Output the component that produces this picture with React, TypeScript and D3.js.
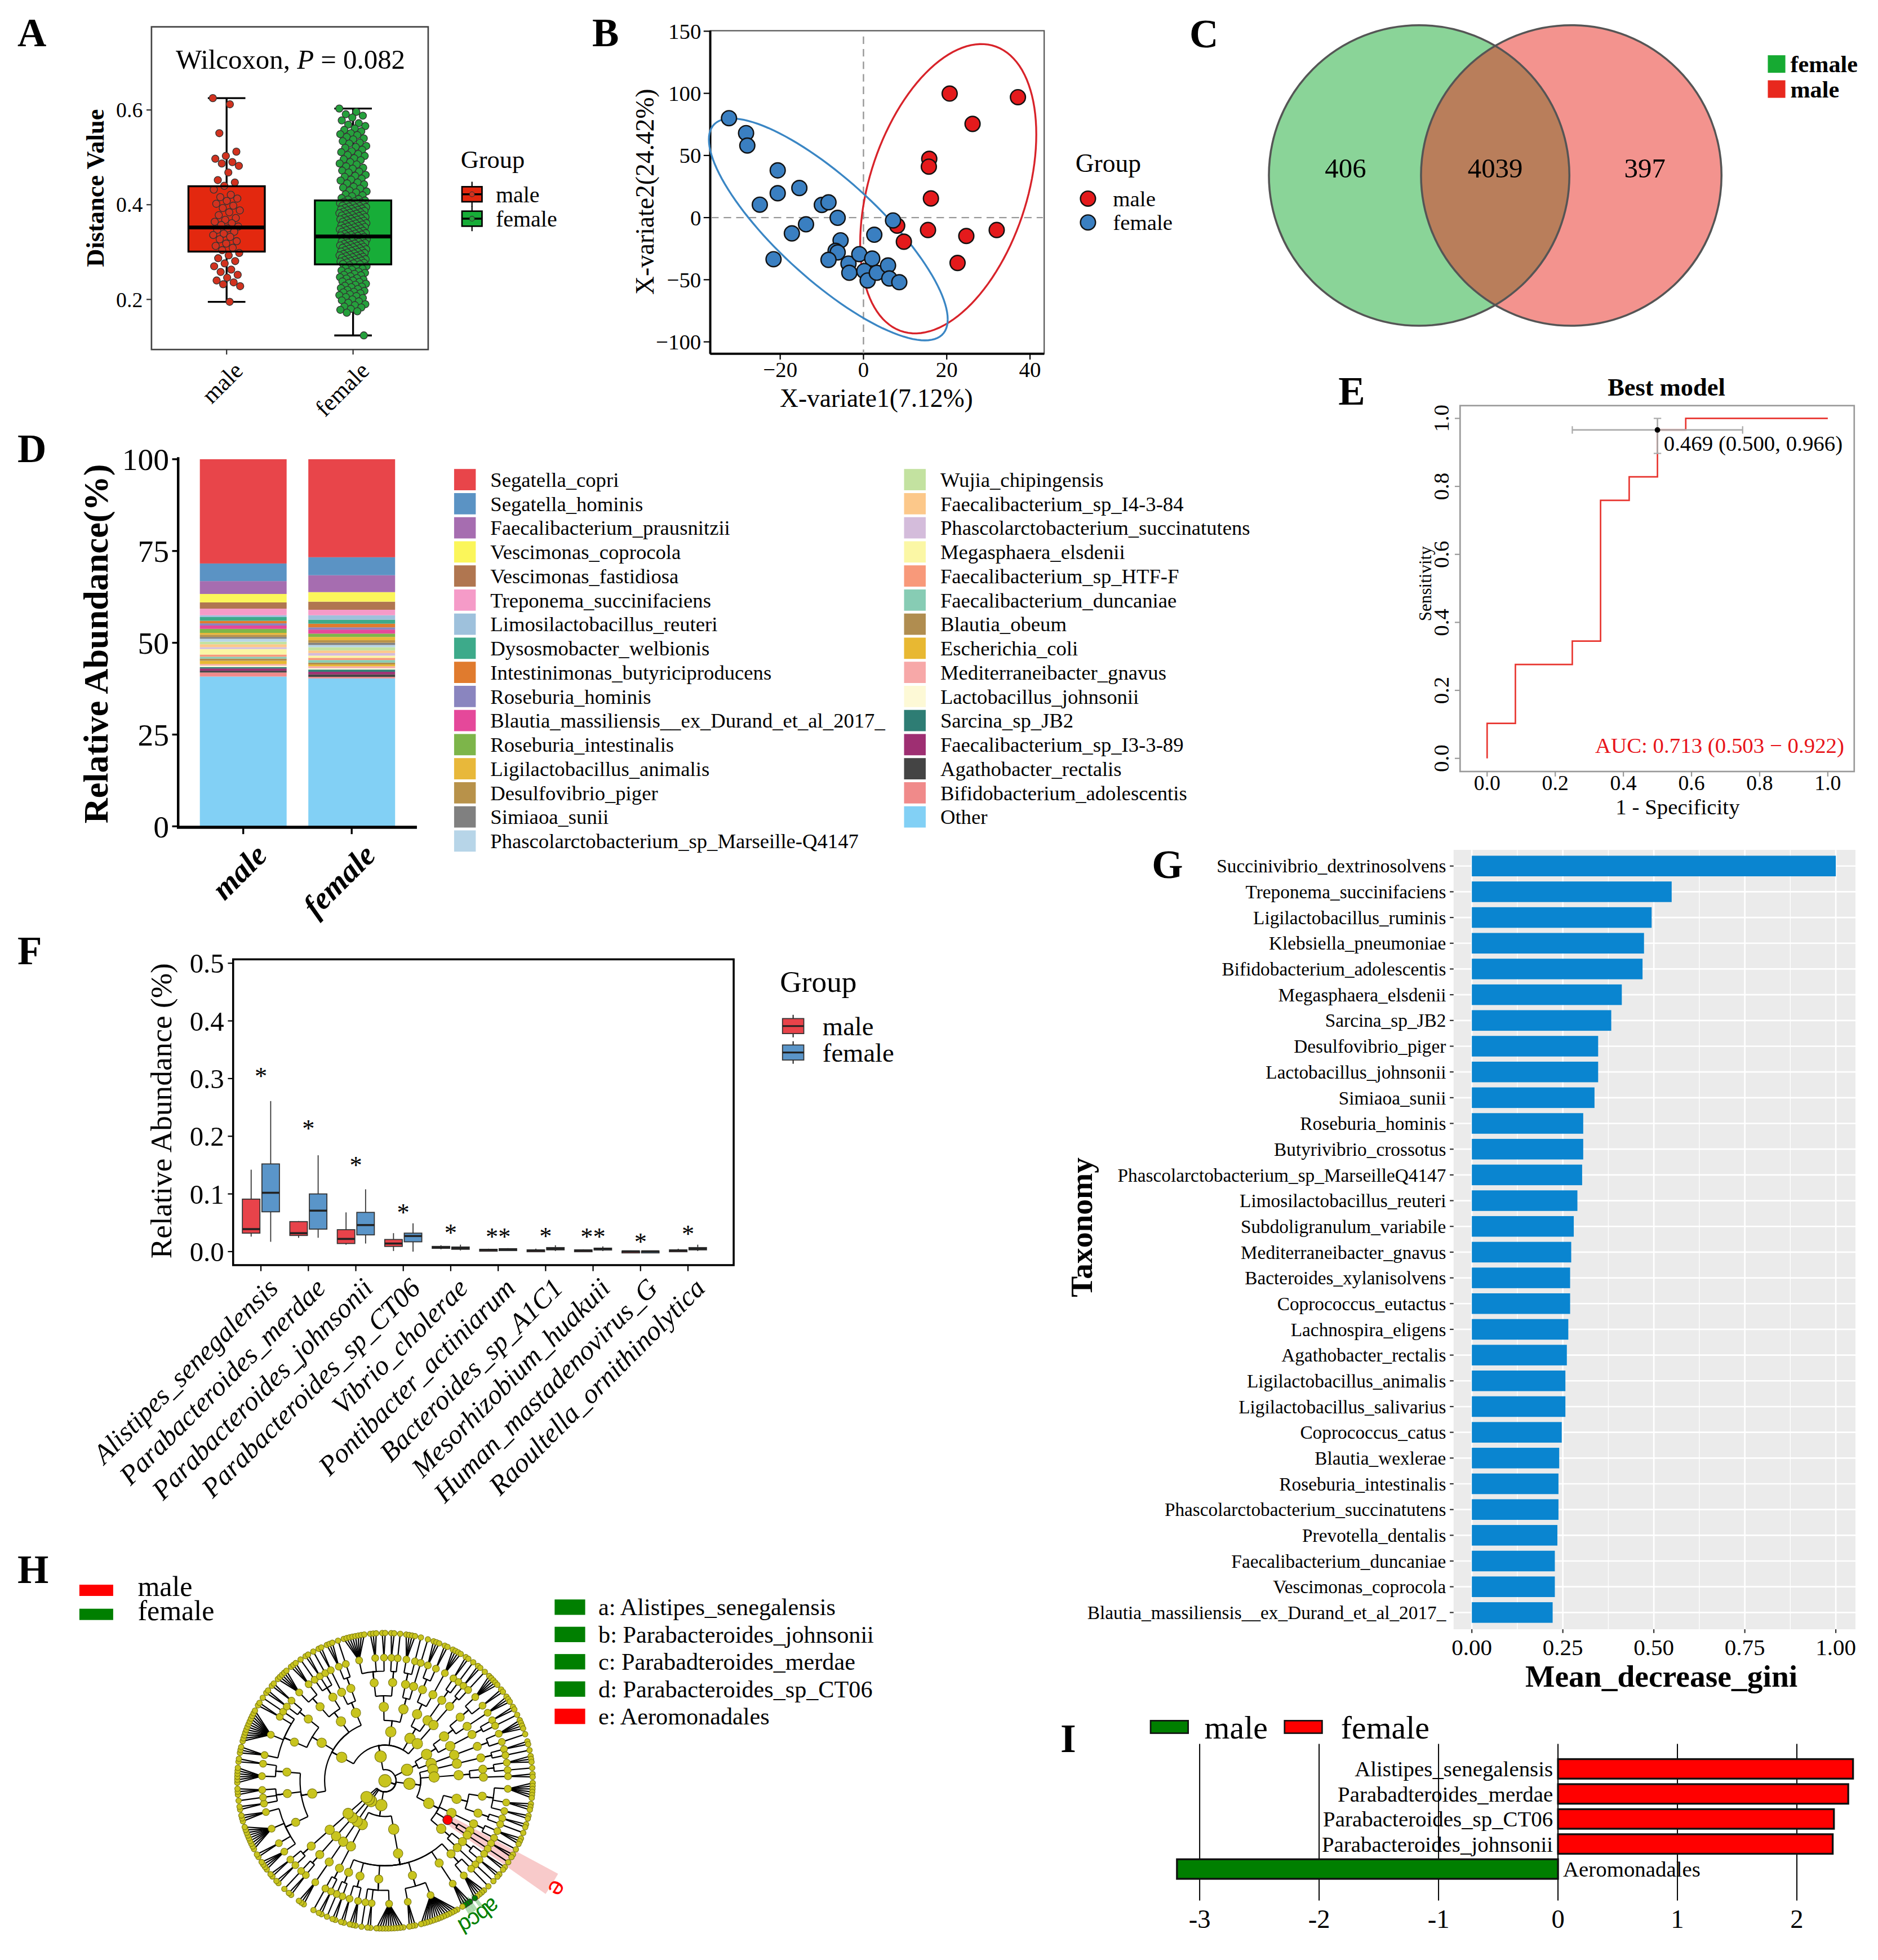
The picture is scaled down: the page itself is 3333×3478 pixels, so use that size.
import * as d3 from 'd3';

const FONT = '"Liberation Serif", "Times New Roman", Times, serif';
const jitter = (i: number) => ((i * 0.6180339887) % 1) - 0.5;

// ---------- A: distance boxplot ----------
const groupsA = ['male', 'female'];
const lowA = [0.195, 0.124];
const q1A = [0.301, 0.274];
const medA = [0.352, 0.333];
const q3A = [0.439, 0.409];
const highA = [0.625, 0.603];
const ticksA = [0.2, 0.4, 0.6];
const boxColorsA = ['#e3280f', '#17ad38'];
const pointColorsA = ['#d2321f', '#25a03c'];
const maleDistance = [0.625, 0.612, 0.551, 0.512, 0.503, 0.497, 0.49, 0.487, 0.482, 0.468, 0.452, 0.447, 0.44, 0.432, 0.421,
  0.416, 0.413, 0.408, 0.402, 0.398, 0.393, 0.388, 0.384, 0.378, 0.372, 0.368, 0.364, 0.361, 0.357, 0.354, 0.35, 0.347,
  0.343, 0.339, 0.336, 0.332, 0.327, 0.323, 0.318, 0.313, 0.309, 0.304, 0.298, 0.293, 0.287, 0.281, 0.276, 0.27, 0.263,
  0.258, 0.252, 0.246, 0.24, 0.236, 0.232, 0.228, 0.195];
const femaleDistance = [0.603, 0.596, 0.591, 0.588, 0.584, 0.578, 0.572, 0.569, 0.566, 0.561, 0.558, 0.555, 0.551, 0.549,
  0.547, 0.543, 0.54, 0.538, 0.534, 0.531, 0.529, 0.524, 0.522, 0.52, 0.516, 0.513, 0.511, 0.507, 0.505, 0.503, 0.498,
  0.496, 0.494, 0.49, 0.487, 0.485, 0.481, 0.478, 0.476, 0.472, 0.47, 0.468, 0.463, 0.461, 0.459, 0.455, 0.453, 0.451,
  0.447, 0.445, 0.443, 0.438, 0.436, 0.434, 0.43, 0.428, 0.426, 0.422, 0.42, 0.418, 0.414, 0.412, 0.411, 0.409, 0.407,
  0.406, 0.405, 0.404, 0.403, 0.402, 0.401, 0.4, 0.399, 0.398, 0.397, 0.396, 0.395, 0.394, 0.393, 0.392, 0.391, 0.39,
  0.389, 0.388, 0.387, 0.386, 0.385, 0.384, 0.383, 0.382, 0.381, 0.38, 0.379, 0.378, 0.377, 0.376, 0.375, 0.374, 0.373,
  0.372, 0.371, 0.37, 0.369, 0.368, 0.367, 0.366, 0.365, 0.364, 0.363, 0.362, 0.361, 0.36, 0.359, 0.358, 0.357, 0.356,
  0.355, 0.354, 0.353, 0.352, 0.351, 0.35, 0.349, 0.348, 0.347, 0.346, 0.345, 0.344, 0.343, 0.342, 0.341, 0.34, 0.339,
  0.338, 0.337, 0.336, 0.335, 0.334, 0.333, 0.332, 0.331, 0.33, 0.329, 0.328, 0.327, 0.326, 0.325, 0.324, 0.323, 0.322,
  0.321, 0.32, 0.319, 0.318, 0.317, 0.316, 0.315, 0.314, 0.313, 0.312, 0.311, 0.31, 0.309, 0.308, 0.307, 0.306, 0.305,
  0.304, 0.303, 0.302, 0.301, 0.3, 0.299, 0.298, 0.297, 0.296, 0.295, 0.294, 0.293, 0.292, 0.291, 0.29, 0.289, 0.288,
  0.287, 0.286, 0.285, 0.284, 0.283, 0.282, 0.281, 0.28, 0.279, 0.278, 0.277, 0.276, 0.275, 0.274, 0.272, 0.27, 0.268,
  0.266, 0.265, 0.263, 0.261, 0.259, 0.258, 0.256, 0.254, 0.252, 0.251, 0.249, 0.247, 0.245, 0.244, 0.242, 0.24, 0.238,
  0.237, 0.235, 0.233, 0.231, 0.229, 0.227, 0.226, 0.224, 0.222, 0.22, 0.218, 0.216, 0.215, 0.213, 0.211, 0.209, 0.207,
  0.205, 0.203, 0.2, 0.198, 0.196, 0.193, 0.19, 0.188, 0.185, 0.183, 0.18, 0.178, 0.175, 0.172, 0.124];

// ---------- B: PLS-DA scores ----------
const maleX = [20.7, 37.1, 26.2, 15.8, 15.7, 16.2, 8.1, 9.7, 15.5, 24.7, 32.0, 22.6];
const maleY = [99.8, 96.9, 75.4, 47.3, 41.0, 15.4, -6.5, -19.4, -10.0, -14.8, -10.0, -36.5];
const femaleX = [-32.3, -28.2, -27.9, -20.6, -20.6, -15.4, -24.9, -10.0, -8.4, -6.2, -13.8, -17.2, -21.6, -5.5, -6.7,
  -6.2, -8.4, -3.6, -3.4, -1.0, 2.1, 0.2, 1.0, 3.2, 2.6, 5.9, 6.2, 8.6, 7.1];
const femaleY = [80, 68, 58, 38, 19.6, 23.8, 10.4, 10.2, 12.3, -0.2, -5.4, -12.7, -33.5, -18.3, -26.7, -28, -34, -37,
  -44.4, -29.4, -33, -43, -50.6, -44.4, -13.8, -38.5, -49, -52, -2.3];
const ticksBx = [-20, 0, 20, 40];
const ticksBy = [-100, -50, 0, 50, 100, 150];

// ---------- C: Venn ----------
const vennSets = ['female', 'male'];
const vennCounts = [406, 4039, 397];
const vennColors = ['#16aa32', '#e8281e'];

// ---------- D: stacked composition ----------
const speciesD = ['Segatella_copri', 'Segatella_hominis', 'Faecalibacterium_prausnitzii', 'Vescimonas_coprocola',
  'Vescimonas_fastidiosa', 'Treponema_succinifaciens', 'Limosilactobacillus_reuteri', 'Dysosmobacter_welbionis',
  'Intestinimonas_butyriciproducens', 'Roseburia_hominis', 'Blautia_massiliensis__ex_Durand_et_al_2017_',
  'Roseburia_intestinalis', 'Ligilactobacillus_animalis', 'Desulfovibrio_piger', 'Simiaoa_sunii',
  'Phascolarctobacterium_sp_Marseille-Q4147', 'Wujia_chipingensis', 'Faecalibacterium_sp_I4-3-84',
  'Phascolarctobacterium_succinatutens', 'Megasphaera_elsdenii', 'Faecalibacterium_sp_HTF-F',
  'Faecalibacterium_duncaniae', 'Blautia_obeum', 'Escherichia_coli', 'Mediterraneibacter_gnavus',
  'Lactobacillus_johnsonii', 'Sarcina_sp_JB2', 'Faecalibacterium_sp_I3-3-89', 'Agathobacter_rectalis',
  'Bifidobacterium_adolescentis', 'Other'];
const colorsD = ['#e8454a', '#5b93c4', '#a66db0', '#fbf65a', '#b07650', '#f59bc8', '#9ec1dc', '#3daa8a', '#e07b2e',
  '#8a85bf', '#e5489a', '#7db54a', '#e8b83a', '#b8924a', '#808080', '#b7d5e8', '#c3e2a0', '#fcc88a', '#d4bcdb',
  '#fbf7a5', '#f8997a', '#87ccb4', '#b08d50', '#e8b832', '#f7a8a8', '#fdf9d6', '#2e7d74', '#9e2f72', '#444444',
  '#f08a8a', '#82d0f5'];
const maleAbundance = [28.4, 4.8, 3.5, 2.3, 1.7, 1.8, 0.5, 1.0, 0.7, 0.6, 0.9, 1.1, 0.5, 0.6, 0.5, 0.8, 0.7, 0.8, 0.5,
  1.5, 0.6, 0.5, 0.6, 0.9, 0.4, 0.4, 0.4, 0.6, 0.5, 1.1, 40.8];
const femaleAbundance = [26.7, 4.9, 4.6, 2.6, 2.2, 1.5, 1.2, 1.1, 1.0, 0.6, 1.1, 0.9, 0.9, 0.7, 0.6, 0.6, 0.9, 0.7, 0.7,
  0.6, 0.6, 0.7, 0.5, 0.5, 0.5, 0.4, 0.6, 0.7, 0.7, 0.4, 40.3];
const ticksD = [0, 25, 50, 75, 100];

// ---------- E: ROC ----------
const rocFpr = [0, 0, 0.083, 0.25, 0.333, 0.417, 0.5, 0.583, 1];
const rocTpr = [0, 0.103, 0.276, 0.345, 0.759, 0.828, 0.966, 1, 1];
const bestPoint = [0.5, 0.966];
const bestFprCI = [0.25, 0.75];
const bestTprCI = [0.897, 1.0];
const ticksE = [0, 0.2, 0.4, 0.6, 0.8, 1.0];

// ---------- F: differential species boxplots ----------
const taxaF = ['Alistipes_senegalensis', 'Parabacteroides_merdae', 'Parabacteroides_johnsonii',
  'Parabacteroides_sp_CT06', 'Vibrio_cholerae', 'Pontibacter_actiniarum', 'Bacteroides_sp_A1C1',
  'Mesorhizobium_huakuii', 'Human_mastadenovirus_G', 'Raoultella_ornithinolytica'];
// [low whisker, Q1, median, Q3, high whisker]
const maleBoxF = [[0.026, 0.032, 0.039, 0.091, 0.142], [0.024, 0.028, 0.032, 0.052, 0.053],
  [0.012, 0.014, 0.022, 0.038, 0.068], [0.001, 0.009, 0.014, 0.021, 0.032], [0.004, 0.006, 0.007, 0.009, 0.011],
  [0.002, 0.003, 0.003, 0.004, 0.005], [0.0, 0.001, 0.002, 0.003, 0.005], [0.001, 0.002, 0.002, 0.003, 0.004],
  [0.0, 0.0, 0.0005, 0.001, 0.002], [0.0, 0.001, 0.002, 0.003, 0.005]];
const femaleBoxF = [[0.017, 0.069, 0.102, 0.152, 0.261], [0.024, 0.039, 0.071, 0.1, 0.167],
  [0.014, 0.029, 0.046, 0.068, 0.108], [0.0, 0.017, 0.027, 0.032, 0.049], [0.002, 0.004, 0.006, 0.008, 0.012],
  [0.002, 0.003, 0.004, 0.005, 0.006], [0.001, 0.003, 0.005, 0.007, 0.011], [0.001, 0.003, 0.005, 0.006, 0.009],
  [0.0, 0.0, 0.0005, 0.001, 0.002], [0.001, 0.003, 0.005, 0.007, 0.012]];
const sigF = ['*', '*', '*', '*', '*', '**', '*', '**', '*', '*'];
const sigYF = [0.31, 0.219, 0.155, 0.073, 0.038, 0.031, 0.032, 0.031, 0.022, 0.036];
const ticksF = [0, 0.1, 0.2, 0.3, 0.4, 0.5];
const colorsF = ['#e8434a', '#5a95c9'];

// ---------- G: random forest importance ----------
const taxaG = ['Succinivibrio_dextrinosolvens', 'Treponema_succinifaciens', 'Ligilactobacillus_ruminis',
  'Klebsiella_pneumoniae', 'Bifidobacterium_adolescentis', 'Megasphaera_elsdenii', 'Sarcina_sp_JB2',
  'Desulfovibrio_piger', 'Lactobacillus_johnsonii', 'Simiaoa_sunii', 'Roseburia_hominis', 'Butyrivibrio_crossotus',
  'Phascolarctobacterium_sp_MarseilleQ4147', 'Limosilactobacillus_reuteri', 'Subdoligranulum_variabile',
  'Mediterraneibacter_gnavus', 'Bacteroides_xylanisolvens', 'Coprococcus_eutactus', 'Lachnospira_eligens',
  'Agathobacter_rectalis', 'Ligilactobacillus_animalis', 'Ligilactobacillus_salivarius', 'Coprococcus_catus',
  'Blautia_wexlerae', 'Roseburia_intestinalis', 'Phascolarctobacterium_succinatutens', 'Prevotella_dentalis',
  'Faecalibacterium_duncaniae', 'Vescimonas_coprocola', 'Blautia_massiliensis__ex_Durand_et_al_2017_'];
const giniG = [1.0, 0.549, 0.494, 0.473, 0.469, 0.412, 0.383, 0.347, 0.347, 0.337, 0.306, 0.306, 0.303, 0.29, 0.28,
  0.273, 0.27, 0.27, 0.265, 0.261, 0.257, 0.257, 0.247, 0.24, 0.238, 0.238, 0.235, 0.228, 0.228, 0.222];
const ticksG = [0, 0.25, 0.5, 0.75, 1.0];

// ---------- H: LEfSe cladogram ----------
// phylum > class > order > family > [species count per genus]
const cladeTree = [
  [
    [[[4, 2, 9, 3], [2, 1, 3], [6, 2]], [[3, 12, 2, 1], [2, 2]], [[5, 3], [1, 2, 1]], [[2], [3, 1]]],
    [[[8, 3, 2], [2, 1]], [[4, 1], [1]]],
    [[[3, 2], [4]], [[2, 1]]],
    [[[2, 1]]],
  ],
  [
    [[[5, 2], [3]], [[2, 1]]],
    [[[4, 1]]],
  ],
  [
    [[[2, 1]]],
    [[[3, 1], [2]]],
    [[[6, 3, 2], [2, 1]], [[3, 1]], [[2], [1]], [[2, 2], [1]]],
  ],
  [
    [[[1, 5], [4], [14, 3], [10, 2, 1], [3, 2], [2, 1]]],
    [[[2, 1]]],
  ],
  [[[[3]]]],
  [[[[2, 1]]]],
  [[[[2, 2]]]],
];
const cladeMarkers = [
  { key: 'a', name: 'Alistipes_senegalensis', group: 'female', path: [3, 0, 0, 0, 1, 4] },
  { key: 'b', name: 'Parabacteroides_johnsonii', group: 'female', path: [3, 0, 0, 1, 0, 0] },
  { key: 'c', name: 'Parabadteroides_merdae', group: 'female', path: [3, 0, 0, 1, 0, 1] },
  { key: 'd', name: 'Parabacteroides_sp_CT06', group: 'female', path: [3, 0, 0, 1, 0, 2] },
  { key: 'e', name: 'Aeromonadales', group: 'male', path: [2, 2, 2] },
];
const groupColorsH: Record<string, string> = { male: '#ff0000', female: '#007f00' };

// ---------- I: LDA scores ----------
const taxaI = ['Alistipes_senegalensis', 'Parabadteroides_merdae', 'Parabacteroides_sp_CT06',
  'Parabacteroides_johnsonii', 'Aeromonadales'];
const ldaI = [2.47, 2.43, 2.31, 2.3, -3.19];
const ticksI = [-3, -2, -1, 0, 1, 2];

function Letter({ x, y, t }: { x: number; y: number; t: string }) {
  return <text x={x} y={y} fontSize={32} fontWeight="bold">{t}</text>;
}

function BoxKey({ x, y, fill }: { x: number; y: number; fill: string }) {
  return (
    <g>
      <line x1={x + 8} x2={x + 8} y1={y - 10} y2={y + 10} stroke="#000" strokeWidth={1} />
      <rect x={x} y={y - 6} width={16} height={12} fill={fill} stroke="#000" strokeWidth={1.2} />
      <line x1={x} x2={x + 16} y1={y} y2={y} stroke="#000" strokeWidth={1.6} />
    </g>
  );
}

function PanelA() {
  const x = d3.scalePoint<string>().domain(groupsA).range([181, 282]);
  const y = d3.scaleLinear().domain([0.2, 0.6]).range([239, 87.7]);
  const dists = [maleDistance, femaleDistance];
  const boxW = 61, capW = 30;
  return (
    <g>
      <Letter x={14} y={37} t="A" />
      <rect x={121} y={21.3} width={221} height={257.7} fill="none" stroke="#444" strokeWidth={1.2} />
      <text x={232} y={55} fontSize={22} textAnchor="middle">
        Wilcoxon, <tspan fontStyle="italic">P</tspan> = 0.082
      </text>
      {ticksA.map((t) => (
        <g key={t}>
          <line x1={117} x2={121} y1={y(t)} y2={y(t)} stroke="#333" />
          <text x={114} y={y(t)} dy="0.35em" fontSize={17} textAnchor="end">{t.toFixed(1)}</text>
        </g>
      ))}
      <text transform="translate(83,150) rotate(-90)" fontSize={20} fontWeight="bold" textAnchor="middle">Distance Value</text>
      {groupsA.map((g, i) => {
        const cx = x(g)!;
        return (
          <g key={g}>
            <line x1={cx} x2={cx} y1={y(highA[i])} y2={y(lowA[i])} stroke="#000" strokeWidth={1.5} />
            <line x1={cx - capW / 2} x2={cx + capW / 2} y1={y(highA[i])} y2={y(highA[i])} stroke="#000" strokeWidth={1.5} />
            <line x1={cx - capW / 2} x2={cx + capW / 2} y1={y(lowA[i])} y2={y(lowA[i])} stroke="#000" strokeWidth={1.5} />
            <rect x={cx - boxW / 2} y={y(q3A[i])} width={boxW} height={y(q1A[i]) - y(q3A[i])} fill={boxColorsA[i]} />
            {dists[i].map((v, j) => (
              <circle key={j} cx={cx + jitter(j) * 22} cy={y(v)} r={2.9} fill={pointColorsA[i]} stroke="#333" strokeWidth={0.6} />
            ))}
            <rect x={cx - boxW / 2} y={y(q3A[i])} width={boxW} height={y(q1A[i]) - y(q3A[i])} fill="none" stroke="#000" strokeWidth={1.5} />
            <line x1={cx - boxW / 2} x2={cx + boxW / 2} y1={y(medA[i])} y2={y(medA[i])} stroke="#000" strokeWidth={3} />
            <line x1={cx} x2={cx} y1={279} y2={283} stroke="#333" />
            <text transform={`translate(${cx + 6},${289}) rotate(-45)`} fontSize={19} textAnchor="end" dy="0.6em">{g}</text>
          </g>
        );
      })}
      <text x={368} y={134} fontSize={20}>Group</text>
      {groupsA.map((g, i) => (
        <g key={g}>
          <BoxKey x={369} y={155 + i * 19.5} fill={boxColorsA[i]} />
          <circle cx={377} cy={155 + i * 19.5} r={2} fill={pointColorsA[i]} stroke="#333" strokeWidth={0.5} />
          <text x={396} y={155 + i * 19.5} dy="0.35em" fontSize={18}>{g}</text>
        </g>
      ))}
    </g>
  );
}

function ellipsePath(xs: number[], ys: number[], sx: any, sy: any, k = 2.4477) {
  const mx = d3.mean(xs)!, my = d3.mean(ys)!;
  const n = xs.length;
  let sxx = 0, syy = 0, sxy = 0;
  xs.forEach((v, i) => {
    sxx += (v - mx) ** 2;
    syy += (ys[i] - my) ** 2;
    sxy += (v - mx) * (ys[i] - my);
  });
  sxx /= n - 1; syy /= n - 1; sxy /= n - 1;
  const l11 = Math.sqrt(sxx), l21 = sxy / l11, l22 = Math.sqrt(syy - l21 * l21);
  const pts = d3.range(0, 121).map((i) => {
    const t = (i / 120) * 2 * Math.PI;
    return [sx(mx + k * l11 * Math.cos(t)), sy(my + k * (l21 * Math.cos(t) + l22 * Math.sin(t)))] as [number, number];
  });
  return d3.line()(pts)!;
}

function PanelB() {
  const x = d3.scaleLinear().domain([-36.8, 43.4]).range([567.3, 834]);
  const y = d3.scaleLinear().domain([-109.6, 150.4]).range([282.4, 24.4]);
  const fmt = d3.format('d');
  const red = '#e41a1c', blue = '#3a7fc1';
  return (
    <g>
      <Letter x={473} y={37} t="B" />
      <rect x={567.3} y={24.4} width={266.7} height={258} fill="none" stroke="#555" strokeWidth={1} />
      <line x1={567.3} x2={567.3} y1={24.4} y2={282.4} stroke="#000" strokeWidth={1.8} />
      <line x1={567.3} x2={834} y1={282.4} y2={282.4} stroke="#000" strokeWidth={1.8} />
      <line x1={x(0)} x2={x(0)} y1={29} y2={282} stroke="#999" strokeDasharray="6,4" strokeWidth={1.1} />
      <line x1={568} x2={833} y1={y(0)} y2={y(0)} stroke="#999" strokeDasharray="6,4" strokeWidth={1.1} />
      {ticksBy.map((t) => (
        <g key={t}>
          <line x1={562} x2={567.3} y1={y(t)} y2={y(t)} stroke="#000" />
          <text x={560} y={y(t)} dy="0.35em" fontSize={17.5} textAnchor="end">{fmt(t)}</text>
        </g>
      ))}
      {ticksBx.map((t) => (
        <g key={t}>
          <line x1={x(t)} x2={x(t)} y1={282.4} y2={287} stroke="#000" />
          <text x={x(t)} y={295} dy="0.35em" fontSize={17.5} textAnchor="middle">{fmt(t)}</text>
        </g>
      ))}
      <text x={700} y={325} fontSize={20.5} textAnchor="middle">X-variate1(7.12%)</text>
      <text transform="translate(522,153) rotate(-90)" fontSize={20.5} textAnchor="middle">X-variate2(24.42%)</text>
      <path d={ellipsePath(maleX, maleY, x, y)} fill="none" stroke="#d8232a" strokeWidth={1.5} />
      <path d={ellipsePath(femaleX, femaleY, x, y)} fill="none" stroke="#3a86c4" strokeWidth={1.5} />
      {maleX.map((v, i) => (
        <circle key={'m' + i} cx={x(v)} cy={y(maleY[i])} r={6} fill={red} stroke="#111" strokeWidth={1.1} />
      ))}
      {femaleX.map((v, i) => (
        <circle key={'f' + i} cx={x(v)} cy={y(femaleY[i])} r={6} fill={blue} stroke="#111" strokeWidth={1.1} />
      ))}
      <text x={859} y={137} fontSize={20.5}>Group</text>
      <circle cx={869} cy={158.5} r={6} fill={red} stroke="#111" strokeWidth={1.1} />
      <text x={889} y={158.5} dy="0.35em" fontSize={17.5}>male</text>
      <circle cx={869} cy={177.5} r={6} fill={blue} stroke="#111" strokeWidth={1.1} />
      <text x={889} y={177.5} dy="0.35em" fontSize={17.5}>female</text>
    </g>
  );
}

function PanelC() {
  const cx = d3.scalePoint<string>().domain(vennSets).range([1133.5, 1255]);
  const r = 120, cy = 140;
  const xf = cx('female')!, xm = cx('male')!;
  const labelX = [xf - r * 0.49, (xf + xm) / 2, xm + r * 0.49];
  return (
    <g>
      <Letter x={950} y={37.5} t="C" />
      {vennSets.map((s, i) => (
        <circle key={s} cx={cx(s)} cy={cy} r={r} fill={vennColors[i]} fillOpacity={0.5} />
      ))}
      {vennSets.map((s) => (
        <circle key={s} cx={cx(s)} cy={cy} r={r} fill="none" stroke="#555" strokeWidth={1.6} />
      ))}
      {vennCounts.map((c, i) => (
        <text key={i} x={labelX[i]} y={cy - 6} dy="0.35em" fontSize={22} textAnchor="middle">{c}</text>
      ))}
      {vennSets.map((s, i) => (
        <g key={s}>
          <rect x={1412} y={44 + i * 20} width={14} height={14} fill={vennColors[i]} />
          <text x={1430} y={51 + i * 20} dy="0.35em" fontSize={19} fontWeight="bold">{s}</text>
        </g>
      ))}
    </g>
  );
}

function PanelD() {
  const groups = ['male', 'female'];
  const table = groups.map((g, gi) => {
    const row: any = { group: g };
    speciesD.forEach((s, i) => { row[s] = gi === 0 ? maleAbundance[i] : femaleAbundance[i]; });
    return row;
  });
  const keys = speciesD.slice().reverse();
  const series = d3.stack().keys(keys)(table);
  const x = d3.scaleBand().domain(groups).range([142.3, 332.9]).paddingInner(0.2).paddingOuter(0.2);
  const y = d3.scaleLinear().domain([0, 100]).range([659.8, 366.6]);
  const color = d3.scaleOrdinal<string, string>().domain(speciesD).range(colorsD);
  return (
    <g>
      <Letter x={14} y={369} t="D" />
      {series.map((s) => (
        <g key={s.key} fill={color(s.key)}>
          {s.map((d, j) => (
            <rect key={j} x={x(groups[j])} y={y(d[1])} width={x.bandwidth()} height={Math.max(0, y(d[0]) - y(d[1]))} />
          ))}
        </g>
      ))}
      <line x1={142.3} x2={142.3} y1={365} y2={660} stroke="#000" strokeWidth={2} />
      <line x1={141.3} x2={333} y1={660.5} y2={660.5} stroke="#000" strokeWidth={2.5} />
      {ticksD.map((t) => (
        <g key={t}>
          <line x1={137.5} x2={142.3} y1={y(t)} y2={y(t)} stroke="#000" strokeWidth={1.5} />
          <text x={135} y={y(t)} dy="0.35em" fontSize={25} textAnchor="end">{t}</text>
        </g>
      ))}
      {groups.map((g) => (
        <g key={g}>
          <line x1={x(g)! + x.bandwidth() / 2} x2={x(g)! + x.bandwidth() / 2} y1={661} y2={666} stroke="#000" strokeWidth={1.5} />
          <text transform={`translate(${x(g)! + x.bandwidth() / 2 + 8},${672}) rotate(-45)`} fontSize={25}
            fontWeight="bold" fontStyle="italic" textAnchor="end" dy="0.7em">{g}</text>
        </g>
      ))}
      <text transform="translate(86,514) rotate(-90)" fontSize={28} fontWeight="bold" textAnchor="middle">Relative Abundance(%)</text>
      {speciesD.map((s, i) => {
        const col = i < 16 ? 0 : 1;
        const row = i < 16 ? i : i - 16;
        const sx = col === 0 ? 362.7 : 722.1;
        const cy = 382.9 + row * 19.24;
        return (
          <g key={s}>
            <rect x={sx} y={cy - 8.5} width={17.3} height={17} fill={colorsD[i]} />
            <text x={sx + 29} y={cy} dy="0.35em" fontSize={16.5}>{s}</text>
          </g>
        );
      })}
    </g>
  );
}

function PanelE() {
  const x = d3.scaleLinear().domain([0, 1]).range([1187.8, 1459.9]);
  const y = d3.scaleLinear().domain([0, 1]).range([605.5, 334]);
  const pts = rocFpr.map((f, i) => [x(f), y(rocTpr[i])] as [number, number]);
  const line = d3.line().curve(d3.curveStepAfter)(pts)!;
  const grey = '#999';
  return (
    <g>
      <Letter x={1069} y={323} t="E" />
      <text x={1331} y={316} fontSize={20} fontWeight="bold" textAnchor="middle">Best model</text>
      <rect x={1166.2} y={323.8} width={314.8} height={292.2} fill="none" stroke={grey} strokeWidth={1.2} />
      {ticksE.map((t) => (
        <g key={t}>
          <line x1={1162} x2={1166.2} y1={y(t)} y2={y(t)} stroke={grey} />
          <text transform={`translate(1157,${y(t)}) rotate(-90)`} fontSize={17.5} textAnchor="middle">{t.toFixed(1)}</text>
          <line x1={x(t)} x2={x(t)} y1={616} y2={620} stroke={grey} />
          <text x={x(t)} y={625} dy="0.35em" fontSize={17} textAnchor="middle">{t.toFixed(1)}</text>
        </g>
      ))}
      <text transform="translate(1143,466) rotate(-90)" fontSize={14} textAnchor="middle">Sensitivity</text>
      <text x={1340} y={650} fontSize={17.5} textAnchor="middle">1 - Specificity</text>
      <path d={line} fill="none" stroke="#e8352f" strokeWidth={1.2} />
      <line x1={x(bestFprCI[0])} x2={x(bestFprCI[1])} y1={y(bestPoint[1])} y2={y(bestPoint[1])} stroke="#aaa" strokeWidth={1.2} />
      <line x1={x(bestFprCI[0])} x2={x(bestFprCI[0])} y1={y(bestPoint[1]) - 3} y2={y(bestPoint[1]) + 3} stroke="#aaa" />
      <line x1={x(bestFprCI[1])} x2={x(bestFprCI[1])} y1={y(bestPoint[1]) - 3} y2={y(bestPoint[1]) + 3} stroke="#aaa" />
      <line x1={x(bestPoint[0])} x2={x(bestPoint[0])} y1={y(bestTprCI[0])} y2={y(bestTprCI[1])} stroke="#aaa" strokeWidth={1.2} />
      <line x1={x(bestPoint[0]) - 3} x2={x(bestPoint[0]) + 3} y1={y(bestTprCI[0])} y2={y(bestTprCI[0])} stroke="#aaa" />
      <line x1={x(bestPoint[0]) - 3} x2={x(bestPoint[0]) + 3} y1={y(bestTprCI[1])} y2={y(bestTprCI[1])} stroke="#aaa" />
      <circle cx={x(bestPoint[0])} cy={y(bestPoint[1])} r={2.2} fill="#000" />
      <text x={x(bestPoint[0]) + 5} y={354} dy="0.35em" fontSize={17.5}>
        {`0.469 (${bestPoint[0].toFixed(3)}, ${bestPoint[1].toFixed(3)})`}
      </text>
      <text x={1473} y={595} dy="0.35em" fontSize={17.5} fill="#e8141a" textAnchor="end">AUC: 0.713 (0.503 − 0.922)</text>
    </g>
  );
}

function PanelF() {
  const x = d3.scalePoint<string>().domain(taxaF).range([208.4, 549.5]);
  const y = d3.scaleLinear().domain([0, 0.5]).range([999.4, 769.1]);
  const off = 7.8, bw = 14;
  const boxes = [maleBoxF, femaleBoxF];
  return (
    <g>
      <Letter x={14} y={770} t="F" />
      <rect x={186.2} y={766} width={399.8} height={244.2} fill="none" stroke="#000" strokeWidth={1.6} />
      {ticksF.map((t) => (
        <g key={t}>
          <line x1={182} x2={186.2} y1={y(t)} y2={y(t)} stroke="#000" />
          <text x={179} y={y(t)} dy="0.35em" fontSize={22} textAnchor="end">{t.toFixed(1)}</text>
        </g>
      ))}
      <text transform="translate(137,887) rotate(-90)" fontSize={24} textAnchor="middle">Relative Abundance (%)</text>
      {taxaF.map((t, i) => {
        const cx = x(t)!;
        return (
          <g key={t}>
            {boxes.map((b, gi) => {
              const [lo, q1, md, q3, hi] = b[i];
              const bx = cx + (gi === 0 ? -off : off);
              return (
                <g key={gi}>
                  <line x1={bx} x2={bx} y1={y(hi)} y2={y(lo)} stroke="#333" strokeWidth={0.8} />
                  <rect x={bx - bw / 2} y={y(q3)} width={bw} height={Math.max(1.5, y(q1) - y(q3))} fill={colorsF[gi]} stroke="#333" strokeWidth={0.8} />
                  <line x1={bx - bw / 2} x2={bx + bw / 2} y1={y(md)} y2={y(md)} stroke="#222" strokeWidth={1.6} />
                </g>
              );
            })}
            <text x={cx} y={y(sigYF[i]) + 9} fontSize={20} textAnchor="middle">{sigF[i]}</text>
            <line x1={cx} x2={cx} y1={1010.2} y2={1015} stroke="#000" />
            <text transform={`translate(${cx + 4},${1019}) rotate(-45)`} fontSize={22} fontStyle="italic" textAnchor="end" dy="0.7em">{t}</text>
          </g>
        );
      })}
      <text x={623} y={792} fontSize={24}>Group</text>
      {['male', 'female'].map((g, i) => (
        <g key={g}>
          <line x1={633.5} x2={633.5} y1={819.3 + i * 21.1 - 9} y2={819.3 + i * 21.1 + 9} stroke="#333" />
          <rect x={625} y={819.3 + i * 21.1 - 6} width={17} height={12} fill={colorsF[i]} stroke="#333" strokeWidth={0.8} />
          <line x1={625} x2={642} y1={819.3 + i * 21.1} y2={819.3 + i * 21.1} stroke="#222" strokeWidth={1.4} />
          <text x={657} y={819.3 + i * 21.1} dy="0.35em" fontSize={21}>{g}</text>
        </g>
      ))}
    </g>
  );
}

function PanelG() {
  const x = d3.scaleLinear().domain([0, 1]).range([1175.6, 1466.3]);
  const y = d3.scaleBand().domain(taxaG).range([681.2, 1297.9]).paddingInner(0.2).paddingOuter(0.1);
  const minor = [0.125, 0.375, 0.625, 0.875];
  return (
    <g>
      <Letter x={920} y={701} t="G" />
      <rect x={1161} y={678.6} width={321} height={622.4} fill="#ebebeb" />
      {minor.map((m) => <line key={m} x1={x(m)} x2={x(m)} y1={678.6} y2={1301} stroke="#fff" strokeWidth={0.6} />)}
      {ticksG.map((t) => <line key={t} x1={x(t)} x2={x(t)} y1={678.6} y2={1301} stroke="#fff" strokeWidth={1.2} />)}
      {taxaG.map((t) => (
        <line key={t} x1={1161} x2={1482} y1={y(t)! + y.bandwidth() / 2} y2={y(t)! + y.bandwidth() / 2} stroke="#fff" strokeWidth={1.2} />
      ))}
      {taxaG.map((t, i) => (
        <g key={t}>
          <rect x={x(0)} y={y(t)} width={x(giniG[i]) - x(0)} height={y.bandwidth()} fill="#0a85d0" />
          <line x1={1158} x2={1161} y1={y(t)! + y.bandwidth() / 2} y2={y(t)! + y.bandwidth() / 2} stroke="#333" />
          <text x={1155} y={y(t)! + y.bandwidth() / 2} dy="0.35em" fontSize={15} textAnchor="end">{t}</text>
        </g>
      ))}
      {ticksG.map((t) => (
        <g key={t}>
          <line x1={x(t)} x2={x(t)} y1={1301} y2={1304} stroke="#333" />
          <text x={x(t)} y={1315} dy="0.35em" fontSize={18.5} textAnchor="middle">{t.toFixed(2)}</text>
        </g>
      ))}
      <text x={1327} y={1347} fontSize={25} fontWeight="bold" textAnchor="middle">Mean_decrease_gini</text>
      <text transform="translate(872,980) rotate(-90)" fontSize={25} fontWeight="bold" textAnchor="middle">Taxonomy</text>
    </g>
  );
}

type Clade = number | Clade[];
function buildClade(c: Clade): any {
  return typeof c === 'number' ? { children: d3.range(c).map(() => ({})) } : { children: c.map(buildClade) };
}

function PanelH() {
  const cx = 307.5, cy = 1422, R = 118;
  const root: any = d3.hierarchy(buildClade(cladeTree));
  d3.tree().size([2 * Math.PI, R]).separation((a: any, b: any) => (a.parent === b.parent ? 1 : 2) / a.depth)(root);
  const find = (path: number[]) => path.reduce((n: any, k: number) => n.children[k], root);
  const eNode = find(cladeMarkers[4].path);
  const rot = (122 * Math.PI) / 180 - eNode.x;
  const ang = (n: any) => n.x + rot;
  const pt = (a: number, r: number) => [cx + r * Math.sin(a), cy - r * Math.cos(a)];
  const nodeR = [5, 4.6, 4.2, 3.8, 3.3, 2.8, 2.2];
  const links: string[] = [];
  root.descendants().forEach((n: any) => {
    if (!n.parent) return;
    const p = n.parent;
    const ap = ang(p), ac = ang(n);
    const path = d3.path();
    const [px, py] = pt(ap, p.y);
    const [chx, chy] = pt(ac, n.y);
    if (n.depth === 6) {
      path.moveTo(px, py);
      path.lineTo(chx, chy);
    } else {
      const rm = p.y + (n.y - p.y) * 0.45;
      const [mx, my] = pt(ap, rm);
      path.moveTo(px, py);
      path.lineTo(mx, my);
      if (rm > 0.5) path.arc(cx, cy, rm, ap - Math.PI / 2, ac - Math.PI / 2, ac < ap);
      const [m2x, m2y] = pt(ac, rm);
      path.moveTo(m2x, m2y);
      path.lineTo(chx, chy);
    }
    links.push(path.toString());
  });
  const markerNodes = cladeMarkers.map((m) => ({ ...m, node: find(m.path) }));
  const leafMarkers = markerNodes.filter((m) => m.key !== 'e');
  const leafMid = d3.mean(leafMarkers, (m) => ang(m.node))!;
  const arc = d3.arc();
  const eLeaves = eNode.leaves();
  const eStart = d3.min(eLeaves, (l: any) => ang(l))! - 0.03;
  const eEnd = d3.max(eLeaves, (l: any) => ang(l))! + 0.03;
  return (
    <g>
      <Letter x={14} y={1264} t="H" />
      {['male', 'female'].map((g, i) => (
        <g key={g}>
          <rect x={63.4} y={1265.4 + i * 19.2} width={27} height={9} fill={groupColorsH[g]} />
          <text x={110} y={1274.5 + i * 19.2} fontSize={22.5}>{g}</text>
        </g>
      ))}
      {cladeMarkers.map((m, i) => (
        <g key={m.key}>
          <rect x={443} y={1283.2 + i * 21.8 - 6} width={24.4} height={12.3} fill={groupColorsH[m.group]} />
          <text x={478} y={1283.2 + i * 21.8} dy="0.35em" fontSize={19}>{`${m.key}: ${m.name}`}</text>
        </g>
      ))}
      <g transform={`translate(${cx},${cy})`}>
        <path d={arc({ innerRadius: eNode.y - 4, outerRadius: R * 1.33, startAngle: eStart, endAngle: eEnd } as any)!} fill="#f6b8b8" opacity={0.75} />
        {leafMarkers.map((m) => (
          <path key={m.key} d={arc({ innerRadius: R - 4, outerRadius: R * 1.07, startAngle: ang(m.node) - 0.012, endAngle: ang(m.node) + 0.012 } as any)!} fill="#9fd39f" opacity={0.8} />
        ))}
      </g>
      {links.map((d, i) => <path key={i} d={d} fill="none" stroke="#000" strokeWidth={1} />)}
      {root.descendants().map((n: any, i: number) => {
        const [nx, ny] = pt(ang(n), n.y);
        const mk = markerNodes.find((m) => m.node === n);
        return (
          <circle key={i} cx={nx} cy={ny} r={nodeR[n.depth]} fill={mk ? groupColorsH[mk.group] : '#c8c41e'}
            stroke={mk ? '#333' : '#7d7a10'} strokeWidth={0.5} />
        );
      })}
      {markerNodes.map((m, i) => {
        const a = m.key === 'e' ? ang(m.node) : leafMid + (i - 1.5) * 0.066;
        const rl = m.key === 'e' ? R * 1.38 : R * 1.12;
        const [lx, ly] = pt(a, rl);
        return (
          <text key={m.key} transform={`translate(${lx},${ly}) rotate(${(a * 180) / Math.PI})`} fontSize={m.key === 'e' ? 20 : 18}
            fontFamily="Liberation Sans, Arial, sans-serif" fill={groupColorsH[m.group]} textAnchor="middle" dy="0.35em">{m.key}</text>
        );
      })}
    </g>
  );
}

function PanelI() {
  const x = d3.scaleLinear().domain([-3, 2]).range([958.2, 1435.2]);
  const y = d3.scaleBand().domain(taxaI).range([1402.5, 1502.5]).paddingInner(0.22).paddingOuter(0.11);
  return (
    <g>
      <Letter x={847} y={1399} t="I" />
      {ticksI.map((t) => (
        <g key={t}>
          <line x1={x(t)} x2={x(t)} y1={1392.5} y2={1517.6} stroke="#000" strokeWidth={0.9} />
          <text x={x(t)} y={1532} dy="0.35em" fontSize={21} textAnchor="middle">{String(t)}</text>
        </g>
      ))}
      {taxaI.map((t, i) => {
        const v = ldaI[i];
        const y0 = y(t)!;
        return (
          <g key={t}>
            <rect x={Math.min(x(0), x(v))} y={y0} width={Math.abs(x(v) - x(0))} height={y.bandwidth()}
              fill={v > 0 ? '#ff0000' : '#007f00'} stroke="#111" strokeWidth={1.5} />
            <text x={v > 0 ? x(0) - 4 : x(0) + 4} y={y0 + y.bandwidth() / 2} dy="0.35em" fontSize={17.5}
              textAnchor={v > 0 ? 'end' : 'start'}>{t}</text>
          </g>
        );
      })}
      <rect x={919} y={1374} width={30} height={10} fill="#007f00" stroke="#111" strokeWidth={1.2} />
      <text x={962} y={1379} dy="0.35em" fontSize={26}>male</text>
      <rect x={1026} y={1374} width={30} height={10} fill="#ff0000" stroke="#111" strokeWidth={1.2} />
      <text x={1071} y={1379} dy="0.35em" fontSize={26}>female</text>
    </g>
  );
}

export default function App() {
  return (
    <svg width={3333} height={3478} viewBox="0 0 1500 1565" fontFamily={FONT}
      style={{ position: 'absolute', left: 0, top: 0, background: '#fff' }}>
      <rect x={0} y={0} width={1500} height={1565} fill="#fff" />
      <PanelA />
      <PanelB />
      <PanelC />
      <PanelD />
      <PanelE />
      <PanelF />
      <PanelG />
      <PanelH />
      <PanelI />
    </svg>
  );
}
